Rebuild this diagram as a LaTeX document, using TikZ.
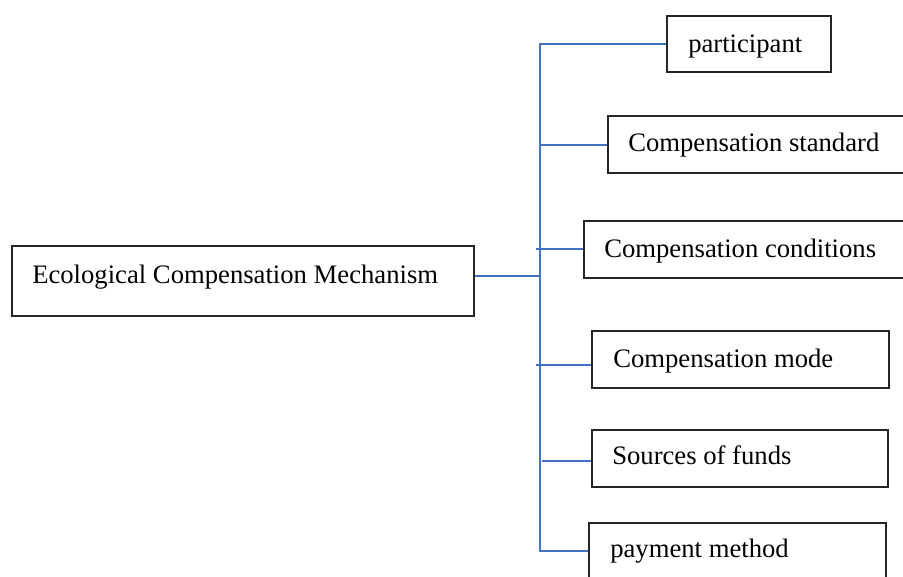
\documentclass[tikz,border=0pt]{standalone}
\usepackage{fontspec}
\setmainfont{Liberation Serif}
\definecolor{connblue}{RGB}{68,114,196}
\tikzset{
  boxshape/.style={draw=black!85, line width=0.9pt, rectangle, inner sep=0pt},
  lbl/.style={anchor=base west, inner sep=0pt, font=\fontsize{20}{24}\selectfont},
  conn/.style={draw=connblue, line width=1.5pt}
}
\begin{document}
\begin{tikzpicture}[x=0.75pt,y=-0.75pt]
\useasboundingbox (0,0) rectangle (903,576);
\clip (0,0) rectangle (903,576);
% boxes
\node[boxshape, minimum width=462*0.75pt, minimum height=70*0.75pt] (m) at (243,281) {};
\node[boxshape, minimum width=164*0.75pt, minimum height=56*0.75pt] (p1) at (749,44) {};
\node[boxshape, minimum width=310*0.75pt, minimum height=57*0.75pt] (p2) at (763,144.5) {};
\node[boxshape, minimum width=334*0.75pt, minimum height=57*0.75pt] (p3) at (751,249.5) {};
\node[boxshape, minimum width=297*0.75pt, minimum height=57*0.75pt] (p4) at (740.5,359.5) {};
\node[boxshape, minimum width=296*0.75pt, minimum height=57*0.75pt] (p5) at (740,458.5) {};
\node[boxshape, minimum width=297*0.75pt, minimum height=56*0.75pt] (p6) at (737.5,551) {};
% labels
\node[lbl] (t0) at (32,283) {Ecological Compensation Mechanism};
\node[lbl] (t1) at (688,52) {participant};
\node[lbl] (t2) at (628,151) {Compensation standard};
\node[lbl] (t3) at (604,257) {Compensation conditions};
\node[lbl] (t4) at (613,367) {Compensation mode};
\node[lbl] (t5) at (612,464) {Sources of funds};
\node[lbl] (t6) at (610,557) {payment method};
% junctions on the vertical bar
\coordinate (top) at (540,44);
\coordinate (bot) at (540,551);
\coordinate (jm) at (541,276);
\coordinate (j2) at (540,145);
\coordinate (j3) at (536,249);
\coordinate (j4) at (536,365);
\coordinate (j5) at (542,461);
% connectors
\draw[conn] (p1.west) -- (top) -- (bot) -- (p6.west);
\draw[conn] (jm -| m.east) -- (jm);
\draw[conn] (j2) -- (j2 -| p2.west);
\draw[conn] (j3) -- (j3 -| p3.west);
\draw[conn] (j4) -- (j4 -| p4.west);
\draw[conn] (j5) -- (j5 -| p5.west);
\end{tikzpicture}
\end{document}
